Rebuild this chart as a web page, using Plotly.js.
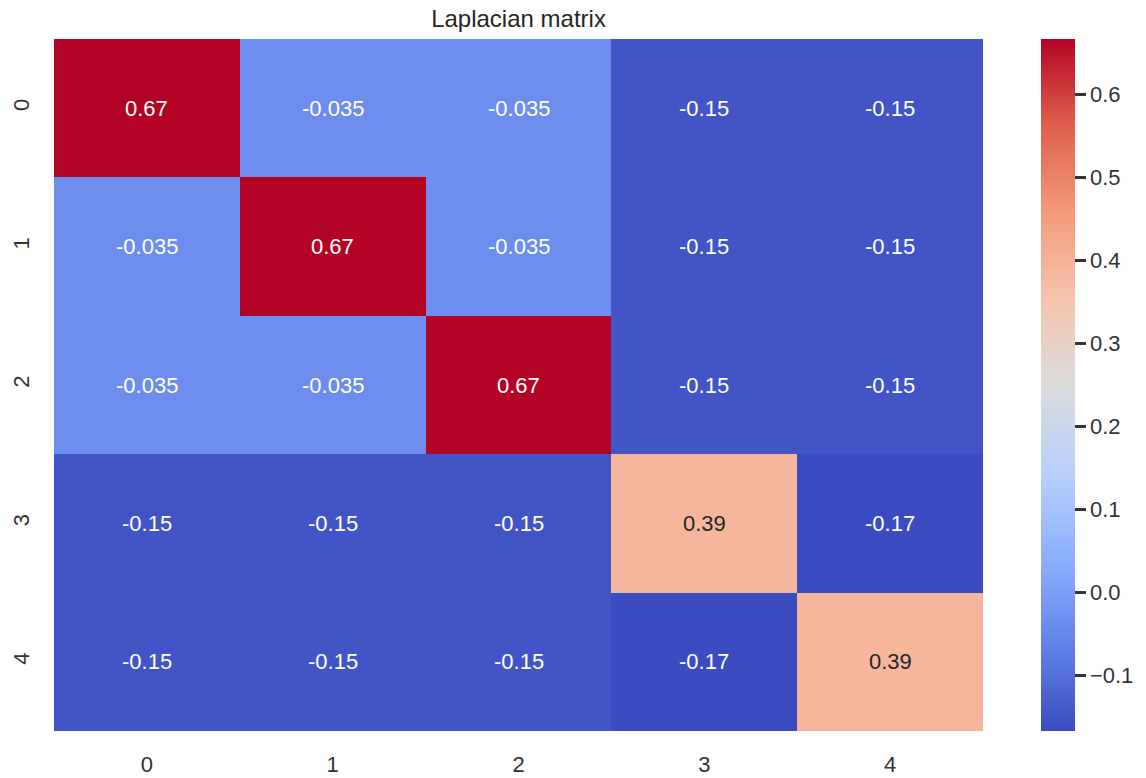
<!DOCTYPE html>
<html>
<head>
<meta charset="utf-8">
<script src="https://cdn.plot.ly/plotly-3.0.1.min.js"></script>
<style>html,body{margin:0;padding:0;background:#fff;}#chart{width:1146px;height:778px;}</style>
</head>
<body>
<div id="chart"></div>
<script>
const categories = ['0', '1', '2', '3', '4'];
const row0 = [0.667, -0.035, -0.035, -0.15, -0.15];
const row1 = [-0.035, 0.667, -0.035, -0.15, -0.15];
const row2 = [-0.035, -0.035, 0.667, -0.15, -0.15];
const row3 = [-0.15, -0.15, -0.15, 0.39, -0.167];
const row4 = [-0.15, -0.15, -0.15, -0.167, 0.39];
const colorbarTicks = [-0.1, 0.0, 0.1, 0.2, 0.3, 0.4, 0.5, 0.6];

const z = [row0, row1, row2, row3, row4];

const coolwarm = [
  [0.0, 'rgb(59,76,192)'],
  [0.125, 'rgb(98,130,234)'],
  [0.25, 'rgb(141,176,254)'],
  [0.375, 'rgb(184,208,249)'],
  [0.5, 'rgb(221,221,221)'],
  [0.625, 'rgb(245,196,173)'],
  [0.75, 'rgb(244,154,123)'],
  [0.875, 'rgb(222,96,77)'],
  [1.0, 'rgb(180,4,38)']
];

const FONT = 'Liberation Sans, Arial, sans-serif';
const flat = z.flat();
const zmin = Math.min(...flat), zmax = Math.max(...flat);

const annotations = [];
z.forEach((row, i) => {
  row.forEach((v, j) => {
    const t = (v - zmin) / (zmax - zmin);
    const light = t > 0.3 && t < 0.85;
    annotations.push({
      x: categories[j], y: categories[i], xref: 'x', yref: 'y',
      text: String(Number(v.toPrecision(2))),
      showarrow: false,
      font: {family: FONT, size: 22, color: light ? '#262626' : '#ffffff'}
    });
  });
});

const trace = {
  type: 'heatmap',
  z: z, x: categories, y: categories,
  colorscale: coolwarm,
  zmin: zmin, zmax: zmax,
  xgap: 0, ygap: 0,
  hoverinfo: 'z',
  colorbar: {
    thickness: 34, thicknessmode: 'pixels',
    len: 1, lenmode: 'fraction',
    x: 1.0624, xanchor: 'left', xpad: 0,
    y: 0.5, yanchor: 'middle', ypad: 0,
    outlinewidth: 0,
    tickvals: colorbarTicks,
    ticktext: colorbarTicks.map(v => v.toFixed(1).replace('-', '\u2212')),
    ticks: 'outside', ticklen: 11, tickwidth: 2.5, tickcolor: '#333333',
    tickfont: {family: FONT, size: 22, color: '#333333'}
  }
};

const layout = {
  width: 1146, height: 778,
  margin: {l: 54, r: 163, t: 39, b: 47},
  paper_bgcolor: '#ffffff', plot_bgcolor: '#ffffff',
  title: {
    text: 'Laplacian matrix',
    x: 0.5, xref: 'paper', xanchor: 'center',
    y: 1 - 19 / 778, yref: 'container', yanchor: 'middle',
    font: {family: FONT, size: 24, color: '#262626'}
  },
  xaxis: {
    type: 'category', showgrid: false, zeroline: false, showline: false,
    ticks: '', ticklabelstandoff: 18,
    tickfont: {family: FONT, size: 22, color: '#333333'}
  },
  yaxis: {
    type: 'category', autorange: 'reversed', showgrid: false, zeroline: false, showline: false,
    ticks: '', tickangle: -90, ticklabelstandoff: 20,
    tickfont: {family: FONT, size: 22, color: '#333333'}
  },
  annotations: annotations
};

Plotly.newPlot('chart', [trace], layout, {displayModeBar: false, staticPlot: true});
</script>
</body>
</html>
